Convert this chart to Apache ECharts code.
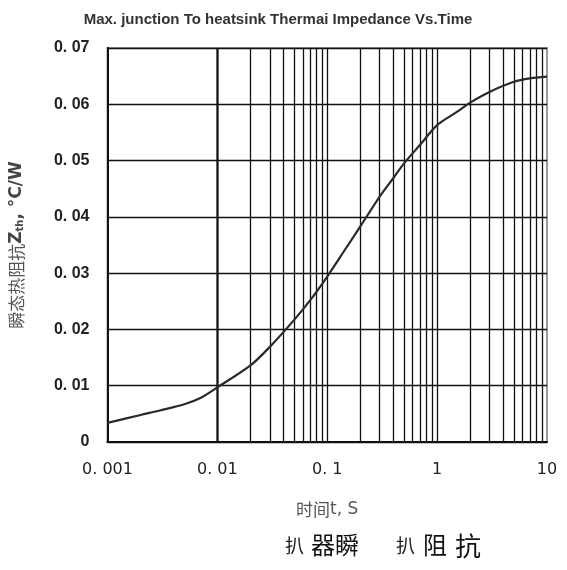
<!DOCTYPE html>
<html>
<head>
<meta charset="utf-8">
<script src="https://cdn.jsdelivr.net/npm/echarts@6/dist/echarts.min.js"></script>
<style>html,body{margin:0;padding:0;background:#fff;}#c{width:567px;height:570px;}</style>
</head>
<body>
<div id="c"></div>
<script>
const times = [0.001, 0.002, 0.003, 0.005, 0.007, 0.01, 0.02, 0.03, 0.05, 0.07, 0.1, 0.15, 0.2, 0.3, 0.4, 0.5, 0.7, 1, 1.5, 2, 3, 5, 7, 10];
const impedance = [0.0034, 0.0048, 0.0056, 0.0067, 0.0078, 0.0097, 0.0136, 0.0169, 0.0217, 0.0252, 0.0294, 0.0346, 0.0383, 0.0436, 0.0469, 0.0495, 0.0528, 0.0563, 0.0586, 0.0603, 0.0622, 0.0640, 0.0646, 0.0649];
const xTickLabels = {0.001: '0. 001', 0.01: '0. 01', 0.1: '0. 1', 1: '1', 10: '10'};
const yTickLabels = ['0', '0. 01', '0. 02', '0. 03', '0. 04', '0. 05', '0. 06', '0. 07'];
const gridX = [0.002,0.003,0.004,0.005,0.006,0.007,0.008,0.009,0.01,
               0.02,0.03,0.04,0.05,0.06,0.07,0.08,0.09,0.1,
               0.2,0.3,0.4,0.5,0.6,0.7,0.8,0.9,1,
               2,3,4,5,6,7,8,9];

const chart = echarts.init(document.getElementById('c'), null, {renderer: 'canvas'});
chart.setOption({
  backgroundColor: '#fff',
  animation: false,
  title: {
    text: 'Max. junction To heatsink Thermai Impedance Vs.Time',
    left: 273, top: 7, textAlign: 'center',
    textStyle: {fontFamily: 'Liberation Sans, Arial', fontSize: 15, fontWeight: 'bold', color: '#333'}
  },
  grid: {left: 106, right: 20, top: 48, bottom: 128, show: true, borderColor: '#999', borderWidth: 2},
  xAxis: {
    type: 'log', logBase: 10, min: 0.001, max: 10,
    name: '{c|时间}{l|t, S}', nameLocation: 'middle', nameGap: 59,
    nameTextStyle: {rich: {
      c: {fontFamily: 'Noto Sans CJK SC', fontSize: 17, color: '#555'},
      l: {fontFamily: 'DejaVu Sans', fontSize: 17, color: '#555'}
    }},
    axisLine: {lineStyle: {color: '#111', width: 2}},
    axisTick: {show: false},
    splitLine: {show: false},
    axisLabel: {
      margin: 20, fontFamily: 'DejaVu Sans', fontSize: 16, color: '#222',
      formatter: v => { const k = Object.keys(xTickLabels).find(key => Math.abs(key - v) < v * 1e-6); return k !== undefined ? xTickLabels[k] : ''; }
    }
  },
  yAxis: {
    type: 'value', min: 0, max: 0.07, interval: 0.01,
    name: '{a|瞬态热阻抗}{z|Z}{s|th}{z|, °C/W}', nameLocation: 'middle', nameGap: 82,
    nameTextStyle: {rich: {
      a: {fontFamily: 'Noto Sans CJK SC', fontSize: 17, color: '#555'},
      z: {fontFamily: 'DejaVu Sans', fontSize: 17, fontWeight: 'bold', color: '#444'},
      s: {fontFamily: 'DejaVu Sans', fontSize: 10, fontWeight: 'bold', color: '#444', verticalAlign: 'bottom', padding: [8,0,0,0]}
    }},
    axisLine: {show: true, lineStyle: {color: '#111', width: 2}},
    axisTick: {show: false},
    splitLine: {show: true, lineStyle: {color: '#111', width: 1.3}},
    axisLabel: {
      margin: 18, fontFamily: 'Liberation Sans, Arial', fontWeight: 'bold', fontSize: 16, color: '#222',
      formatter: (v) => yTickLabels[Math.round(v * 100)]
    }
  },
  series: [{
    type: 'line',
    data: times.map((t, i) => [t, impedance[i]]),
    smooth: 0.3, showSymbol: false,
    lineStyle: {color: '#2a2a2a', width: 2.2},
    z: 5,
    markLine: {
      silent: true, symbol: 'none', label: {show: false},
      lineStyle: {color: '#111', width: 1.3, type: 'solid'},
      data: gridX.map(x => ({xAxis: x}))
    }
  }],
  graphic: [
    {type: 'text', left: 285, top: 536, style: {text: '扒', font: '19px "Noto Sans CJK SC"', fill: '#222'}},
    {type: 'text', left: 311, top: 533, style: {text: '器瞬', font: '24px "Noto Sans CJK SC"', fill: '#111'}},
    {type: 'text', left: 396, top: 536, style: {text: '扒', font: '19px "Noto Sans CJK SC"', fill: '#222'}},
    {type: 'text', left: 423, top: 533, style: {text: '阻', font: '24px "Noto Sans CJK SC"', fill: '#111'}},
    {type: 'text', left: 455, top: 533, style: {text: '抗', font: '26px "Noto Sans CJK SC"', fill: '#111'}}
  ]
});
</script>
</body>
</html>
